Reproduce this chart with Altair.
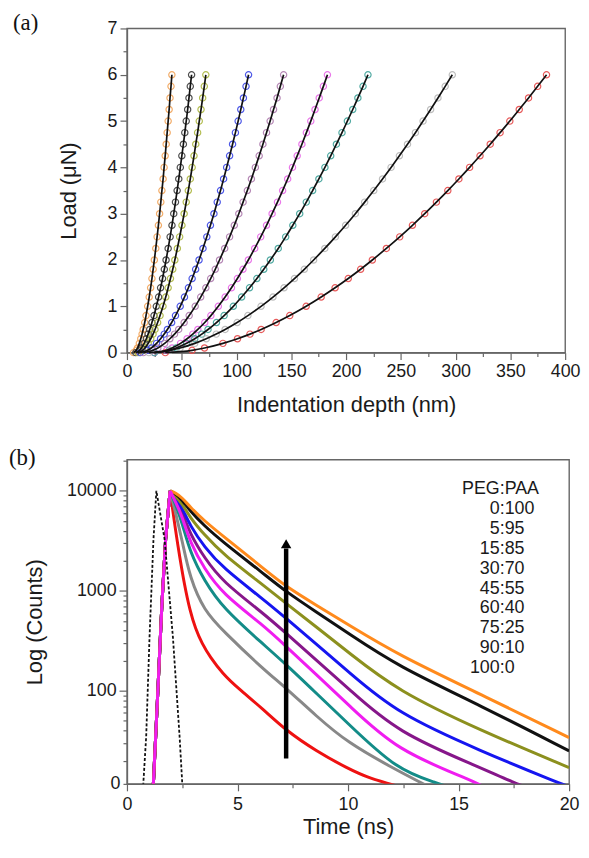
import altair as alt
import pandas as pd

# ================= Panel (a): load vs indentation depth =================
loads = [0, 0.05, 0.1, 0.2, 0.3, 0.4, 0.5, 0.65, 0.8, 1.0, 1.2, 1.4, 1.6, 1.8, 2.0,
         2.25, 2.5, 2.75, 3.0, 3.25, 3.5, 3.75, 4.0, 4.25, 4.5, 4.75, 5.0, 5.25, 5.5, 5.75, 6.0]
depth_orange = [6.0, 8.5, 9.6, 11.3, 12.6, 13.8, 14.8, 16.2, 17.4, 18.9, 20.3, 21.6, 22.8, 23.9, 25.0,
                26.3, 27.5, 28.7, 29.8, 30.9, 31.9, 33.0, 33.9, 34.9, 35.8, 36.7, 37.6, 38.5, 39.3, 40.2, 41.0]
depth_black = [8.0, 11.6, 13.2, 15.7, 17.7, 19.3, 20.8, 22.8, 24.7, 26.8, 28.9, 30.7, 32.5, 34.1, 35.7,
               37.6, 39.4, 41.1, 42.7, 44.3, 45.8, 47.3, 48.7, 50.1, 51.5, 52.8, 54.1, 55.4, 56.6, 57.8, 59.0]
depth_olive = [10.0, 14.3, 16.4, 19.4, 21.7, 23.8, 25.6, 28.0, 30.2, 32.9, 35.4, 37.6, 39.7, 41.8, 43.7,
               46.0, 48.1, 50.2, 52.2, 54.1, 56.0, 57.8, 59.5, 61.2, 62.8, 64.5, 66.0, 67.6, 69.1, 70.6, 72.0]
depth_blue = [12.0, 18.9, 22.2, 27.0, 30.7, 34.0, 36.9, 40.8, 44.3, 48.6, 52.5, 56.1, 59.5, 62.7, 65.8,
              69.4, 72.9, 76.2, 79.4, 82.4, 85.4, 88.2, 91.0, 93.7, 96.4, 99.0, 101.5, 103.9, 106.3, 108.7, 111.0]
depth_mauve = [15.0, 24.0, 28.2, 34.4, 39.2, 43.4, 47.2, 52.2, 56.8, 62.3, 67.3, 72.0, 76.4, 80.6, 84.5,
               89.2, 93.7, 98.0, 102.1, 106.0, 109.9, 113.6, 117.2, 120.7, 124.1, 127.4, 130.7, 133.8, 137.0, 140.0, 143.0]
depth_magenta = [25.0, 36.1, 41.2, 48.9, 54.9, 60.1, 64.7, 71.0, 76.6, 83.4, 89.6, 95.4, 100.8, 105.9, 110.8,
                 116.6, 122.1, 127.4, 132.5, 137.4, 142.1, 146.7, 151.1, 155.4, 159.7, 163.8, 167.8, 171.7, 175.5, 179.3, 183.0]
depth_teal = [25.0, 38.7, 45.0, 54.5, 61.9, 68.3, 74.0, 81.7, 88.7, 97.1, 104.7, 111.9, 118.6, 124.9, 130.9,
              138.1, 144.9, 151.4, 157.7, 163.7, 169.5, 175.2, 180.7, 186.0, 191.2, 196.3, 201.2, 206.1, 210.8, 215.5, 220.0]
depth_gray = [20.0, 39.4, 48.5, 61.9, 72.4, 81.5, 89.6, 100.6, 110.4, 122.4, 133.3, 143.4, 152.9, 161.9, 170.4,
              180.6, 190.3, 199.6, 208.5, 217.0, 225.3, 233.3, 241.1, 248.7, 256.1, 263.3, 270.3, 277.2, 283.9, 290.5, 297.0]
depth_red = [35.0, 59.4, 70.8, 87.6, 100.9, 112.3, 122.5, 136.2, 148.6, 163.6, 177.3, 190.0, 202.0, 213.3, 224.0,
             236.8, 249.0, 260.6, 271.8, 282.5, 292.9, 303.0, 312.8, 322.3, 331.6, 340.6, 349.5, 358.1, 366.6, 374.9, 383.0]

a_names = ["orange", "black", "olive", "blue", "mauve", "magenta", "teal", "gray", "red"]
a_depths = [depth_orange, depth_black, depth_olive, depth_blue, depth_mauve,
            depth_magenta, depth_teal, depth_gray, depth_red]
a_colors = ["#F2A860", "#444444", "#B0BA48", "#4450E6", "#B282B2", "#E870E8", "#48A69E", "#BBBBBB", "#E65252"]

# ================= Panel (b): fluorescence decays =================
rise_t = [1.18, 1.37, 1.58, 1.75, 1.95]
rise_c = [10, 74, 725, 3300, 10000]
peak_t = 1.95
peak_c = 10000

t_orange = [2.2, 2.5, 2.85, 3.5, 4.33, 6.14, 7.19, 8.55, 10, 12.23, 16, 20]
c_orange = [9550, 8510, 6920, 5010, 3550, 1700, 1100, 721, 460, 231, 92, 34]
t_black = [2.2, 2.5, 2.85, 3.5, 4.33, 6.14, 7.19, 8.55, 10, 12.23, 16, 20]
c_black = [9330, 8130, 6310, 4470, 3090, 1510, 980, 617, 377, 177, 71, 25]
t_olive = [2.2, 2.5, 2.85, 3.5, 4.33, 6.14, 7.19, 8.55, 10, 12.23, 16, 20]
c_olive = [8910, 7410, 5430, 3630, 2340, 1150, 750, 437, 244, 100, 40, 17]
t_blue = [2.2, 2.5, 2.85, 3.5, 4.33, 6.14, 7.19, 8.55, 10, 12.23, 16, 19.5, 20.5]
c_blue = [8510, 6760, 4500, 2750, 1700, 832, 532, 295, 156, 59, 25, 12, 10]
t_purple = [2.2, 2.5, 2.85, 3.5, 4.33, 6.14, 7.19, 8.55, 10, 12.23, 16, 17.5, 18.5]
c_purple = [8130, 6170, 3720, 2140, 1230, 603, 378, 204, 106, 38, 17, 12, 10]
t_magenta = [2.2, 2.5, 2.85, 3.5, 4.33, 6.14, 7.19, 8.55, 10, 12.23, 15.5, 16.5]
c_magenta = [7760, 5500, 3070, 1660, 933, 457, 279, 146, 73, 25, 13, 10]
t_teal = [2.2, 2.5, 2.85, 3.5, 4.33, 6.14, 7.19, 8.55, 10, 12.23, 14, 15]
c_teal = [7240, 4790, 2440, 1260, 676, 295, 184, 95, 47, 16, 12, 10]
t_gray = [2.2, 2.5, 2.85, 3.5, 4.33, 6.14, 7.19, 8.55, 10, 12, 13, 14]
c_gray = [6030, 3160, 1330, 630, 400, 166, 107, 56, 30, 17, 13, 10]
t_red = [2.2, 2.4, 2.6, 2.85, 3.1, 3.4, 3.75, 4.33, 5.0, 6.14, 7.19, 8.55, 10, 11, 12.2, 13]
c_red = [3980, 2090, 1150, 631, 417, 295, 219, 148, 107, 66, 40, 25, 16.6, 13.2, 11.2, 10]

irf_t = [0.72, 0.87, 1.02, 1.2, 1.33, 1.7, 2.08, 2.38, 2.52]
irf_c = [10, 35, 340, 3300, 10000, 3300, 340, 35, 10]

b_names = ["red", "gray", "teal", "purple", "blue", "olive", "black", "orange", "magenta"]
b_times = [t_red, t_gray, t_teal, t_purple, t_blue, t_olive, t_black, t_orange, t_magenta]
b_counts = [c_red, c_gray, c_teal, c_purple, c_blue, c_olive, c_black, c_orange, c_magenta]
b_colors = ["#EE1111", "#888888", "#138C88", "#86168A", "#1515F0", "#8C901E", "#111111", "#FF8A1C", "#F01CF0"]

arrow_t = [7.2]
arrow_from = [21]
arrow_to = [2650]
arrow_head = [2950]

legend_left = ["PEG", "0", "5", "15", "30", "45", "60", "75", "90", "100"]
legend_right = [":PAA", ":100", ":95", ":85", ":70", ":55", ":40", ":25", ":10", ":0"]

# ---------------- styling constants ----------------
FONT = "Liberation Sans"
AXC = "#666666"

# ================= build panel (a) =================
rows = []
for n, ds in zip(a_names, a_depths):
    for L, d in zip(loads, ds):
        rows.append({"series": n, "depth": d, "load": L})
df_a = pd.DataFrame(rows)

xa_ticks = list(range(0, 401, 25))
ya_ticks = [i / 2 for i in range(15)]
x_a = alt.X("depth:Q", scale=alt.Scale(domain=[0, 400], nice=False, zero=False),
            axis=alt.Axis(values=xa_ticks, title="Indentation depth (nm)",
                          labelExpr="datum.value % 50 === 0 ? format(datum.value, 'd') : ''",
                          tickSize={"condition": {"test": "datum.value % 50 === 0", "value": 7}, "value": 4},
                          labelPadding=3, titlePadding=14))
y_a = alt.Y("load:Q", scale=alt.Scale(domain=[0, 7], nice=False, zero=False),
            axis=alt.Axis(values=ya_ticks, title="Load (\u03bcN)",
                          labelExpr="datum.value % 1 === 0 ? format(datum.value, 'd') : ''",
                          tickSize={"condition": {"test": "datum.value % 1 === 0", "value": 7}, "value": 4},
                          labelPadding=3, titlePadding=27))

pts_a = alt.Chart(df_a).mark_point(shape="circle", filled=False, size=40, strokeWidth=1.2, opacity=0.95).encode(
    x=x_a, y=y_a,
    color=alt.Color("series:N", scale=alt.Scale(domain=a_names, range=a_colors), legend=None))
fit_a = alt.Chart(df_a).mark_line(color="#111111", strokeWidth=1.7, interpolate="monotone").encode(
    x=x_a, y=y_a, detail="series:N")

panel_a = alt.layer(pts_a, fit_a).properties(
    width=442, height=327,
    title=alt.TitleParams("(a)", anchor="start", frame="group", font="Liberation Serif",
                          fontSize=23, fontWeight="normal", color="#111111", dx=-115, offset=-16))

# ================= build panel (b) =================
xb_ticks = [i * 2.5 for i in range(9)]
yb_ticks = [11.7] + [k * 10 for k in range(2, 10)] + [k * 100 for k in range(1, 10)] + \
           [k * 1000 for k in range(1, 10)] + [10000, 20000]
major_b = "datum.value === 100 || datum.value === 1000 || datum.value === 10000"
x_b = alt.X("t:Q", scale=alt.Scale(domain=[0, 20], nice=False, zero=False),
            axis=alt.Axis(values=xb_ticks, title="Time (ns)",
                          labelExpr="datum.value % 5 === 0 ? format(datum.value, 'd') : ''",
                          tickSize={"condition": {"test": "datum.value % 5 === 0", "value": 7}, "value": 4},
                          labelPadding=5, titlePadding=3))
y_b = alt.Y("c:Q", scale=alt.Scale(type="log", domain=[11.7, 20500], nice=False),
            axis=alt.Axis(values=yb_ticks, title="Log (Counts)",
                          labelExpr="datum.value < 15 ? '0' : (" + major_b + ") ? format(datum.value, 'd') : ''",
                          tickSize={"condition": {"test": major_b, "value": 8}, "value": 4},
                          labelPadding=3, titlePadding=20))

layers_b = []
for n, ts, cs, col in zip(b_names, b_times, b_counts, b_colors):
    df_rise = pd.DataFrame({"t": rise_t, "c": rise_c})
    df_dec = pd.DataFrame({"t": [peak_t] + ts, "c": [peak_c] + cs})
    layers_b.append(alt.Chart(df_rise).mark_line(color=col, strokeWidth=3, clip=True)
                    .encode(x=x_b, y=y_b))
    layers_b.append(alt.Chart(df_dec).mark_line(color=col, strokeWidth=3, clip=True, interpolate="basis")
                    .encode(x=x_b, y=y_b))

df_irf = pd.DataFrame({"t": irf_t, "c": irf_c})
layers_b.append(alt.Chart(df_irf).mark_line(color="#111111", strokeWidth=1.8, strokeDash=[3, 2], clip=True)
                .encode(x=x_b, y=y_b))

df_arrow = pd.DataFrame({"t": arrow_t, "c": arrow_from, "c2": arrow_to})
layers_b.append(alt.Chart(df_arrow).mark_rule(color="black", strokeWidth=4.5).encode(
    x=x_b, y=y_b, y2="c2:Q"))
df_head = pd.DataFrame({"t": arrow_t, "c": arrow_head})
layers_b.append(alt.Chart(df_head).mark_point(shape="triangle-up", filled=True, size=110, color="black",
                                               opacity=1).encode(x=x_b, y=y_b))

df_leg = pd.DataFrame({"left": ["\n".join(legend_left)], "right": ["\n".join(legend_right)]})
layers_b.append(alt.Chart(df_leg).mark_text(align="right", baseline="top", lineBreak="\n", lineHeight=20,
                                            font=FONT, fontSize=18, color="#1a1a1a").encode(
    x=alt.value(376), y=alt.value(21), text="left:N"))
layers_b.append(alt.Chart(df_leg).mark_text(align="left", baseline="top", lineBreak="\n", lineHeight=20,
                                            font=FONT, fontSize=18, color="#1a1a1a").encode(
    x=alt.value(376), y=alt.value(21), text="right:N"))

panel_b = alt.layer(*layers_b).properties(
    width=446, height=327,
    title=alt.TitleParams("(b)", anchor="start", frame="group", font="Liberation Serif",
                          fontSize=23, fontWeight="normal", color="#111111", dx=-119, offset=-18))

chart = alt.vconcat(panel_a, panel_b, spacing=30).properties(
    padding={"left": 0, "top": 0, "right": 0, "bottom": 0}
).configure_view(stroke=AXC, strokeWidth=1.4).configure_axis(
    domainColor=AXC, domainWidth=1.4, tickColor=AXC, tickWidth=1.2,
    labelFont=FONT, labelFontSize=18, labelColor="#1a1a1a",
    titleFont=FONT, titleFontSize=22, titleFontWeight="normal", titleColor="#1a1a1a",
    grid=False, labelFlush=False, labelOverlap=False
).configure_title(font="Liberation Serif")

chart.save("out.html", embed_options={"renderer": "svg", "actions": False})
